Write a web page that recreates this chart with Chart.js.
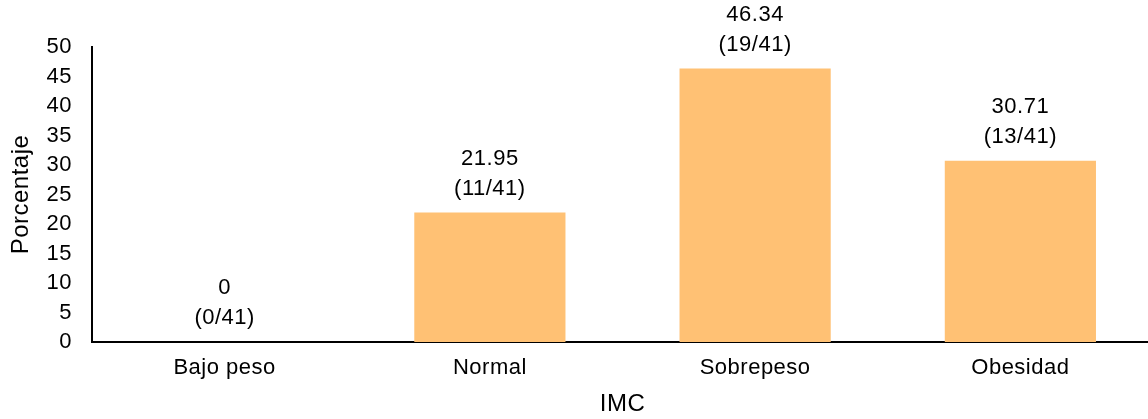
<!DOCTYPE html>
<html>
<head>
<meta charset="utf-8">
<script src="https://cdn.jsdelivr.net/npm/chart.js@4/dist/chart.umd.min.js"></script>
<style>
  html, body { margin: 0; padding: 0; background: #fff; }
  canvas { display: block; }
</style>
</head>
<body>
<canvas id="imcChart" width="1148" height="419"></canvas>
<script>
  // Data
  var categories = ['Bajo peso', 'Normal', 'Sobrepeso', 'Obesidad'];
  var percentages = [0, 21.95, 46.34, 30.71];
  var counts = ['(0/41)', '(11/41)', '(19/41)', '(13/41)'];
  var yTicks = [0, 5, 10, 15, 20, 25, 30, 35, 40, 45, 50];

  var fontFamily = '"Liberation Sans", Arial, sans-serif';

  // The plot in the original runs a few px past the right edge
  var widenX = {
    id: 'widenX',
    afterLayout: function(chart) {
      var x = chart.scales.x;
      x.right += 5;
      x.width += 5;
      x.configure();
    },
    beforeDraw: function(chart) {
      chart.ctx.letterSpacing = '0.5px';
    }
  };

  // Two-line labels above each bar
  var barLabels = {
    id: 'barLabels',
    afterDatasetsDraw: function(chart) {
      var ctx = chart.ctx;
      var meta = chart.getDatasetMeta(0);
      ctx.save();
      ctx.letterSpacing = '0.5px';
      ctx.font = '22px ' + fontFamily;
      ctx.fillStyle = '#000';
      ctx.textAlign = 'center';
      ctx.textBaseline = 'middle';
      meta.data.forEach(function(bar, i) {
        ctx.fillText(String(percentages[i]), bar.x, bar.y - 54);
        ctx.fillText(counts[i], bar.x, bar.y - 24);
      });
      ctx.restore();
    }
  };

  var ctx = document.getElementById('imcChart').getContext('2d');
  var chart = new Chart(ctx, {
    type: 'bar',
    data: {
      labels: categories,
      datasets: [{
        data: percentages,
        backgroundColor: 'rgb(255, 193, 116)',
        borderWidth: 0,
        categoryPercentage: 1,
        barPercentage: 0.57
      }]
    },
    options: {
      responsive: false,
      animation: false,
      layout: { padding: { top: 47, right: 0, left: 0, bottom: 0 } },
      plugins: {
        legend: { display: false },
        tooltip: { enabled: false }
      },
      scales: {
        x: {
          grid: { display: false, drawTicks: false },
          border: { display: true, color: '#000', width: 2 },
          ticks: { color: '#000', font: { family: fontFamily, size: 22 }, padding: 13 },
          title: { display: true, text: 'IMC', color: '#000', font: { family: fontFamily, size: 24 }, padding: { top: 0, bottom: 0 } },
          afterFit: function(scale) { scale.height = 77; }
        },
        y: {
          min: 0,
          max: 50,
          grid: { display: false, drawTicks: false },
          border: { display: true, color: '#000', width: 2 },
          afterBuildTicks: function(scale) {
            scale.ticks = yTicks.map(function(v) { return { value: v }; });
          },
          ticks: { color: '#000', font: { family: fontFamily, size: 22 }, padding: 20 },
          title: { display: true, text: 'Porcentaje', color: '#000', font: { family: fontFamily, size: 24 }, padding: { top: 7, bottom: 0 } },
          afterFit: function(scale) { scale.width = 92; }
        }
      }
    },
    plugins: [widenX, barLabels]
  });
</script>
</body>
</html>
